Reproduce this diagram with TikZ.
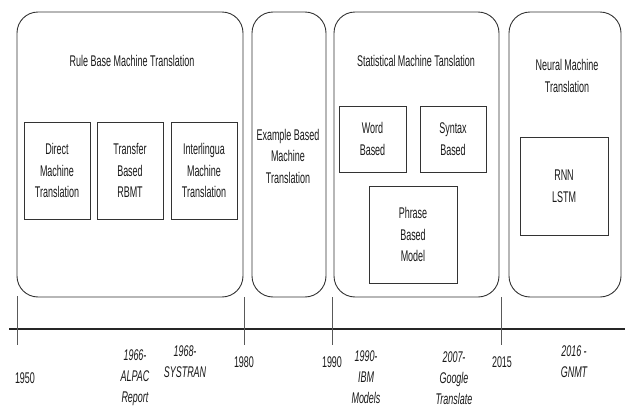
\documentclass[tikz,border=0pt]{standalone}
\usepackage{fontspec}
\setmainfont{Liberation Sans}[FakeStretch=0.58]
\begin{document}
\begin{tikzpicture}[x=1pt,y=-1pt,
  every node/.style={font=\fontsize{15.5}{21.5}\selectfont, text=black!90},
  era/.style={draw=black!80, line width=0.9pt, rounded corners=21pt, minimum width=#1},
  sub/.style={draw=black!80, line width=0.9pt, align=center, inner sep=0pt},
  lbl/.style={align=center, inner sep=0pt},
  yr/.style={align=center, inner sep=0pt, font=\fontsize{15.5}{21}\selectfont\itshape},
  axis/.style={line width=1.6pt, draw=black!85},
  tick/.style={line width=0.8pt, draw=black!65}]
\useasboundingbox (0,0) rectangle (625,407);
% era boxes
\node[era=226pt, minimum height=285pt] (rb) at (130,154.5) {};
\node[era=74pt, minimum height=285pt] (eb) at (289,154.5) {};
\node[era=165pt, minimum height=285pt] (sm) at (416.5,154.5) {};
\node[era=112pt, minimum height=285pt] (nm) at (565,154.5) {};
% titles
\node[lbl] (rbt) at (132,61) {Rule Base Machine Translation};
\node[lbl] (ebt) at (288,156) {Example Based\\Machine\\Translation};
\node[lbl] (smt) at (416,61) {Statistical Machine Tanslation};
\node[lbl] (nmt) at (567,76) {Neural Machine\\Translation};
% sub boxes
\node[sub, minimum width=66pt, minimum height=97pt] (dir) at (57,170.5) {Direct\\Machine\\Translation};
\node[sub, minimum width=66pt, minimum height=97pt] (tra) at (130,170.5) {Transfer\\Based\\RBMT};
\node[sub, minimum width=66pt, minimum height=97pt] (int) at (204,170.5) {Interlingua\\Machine\\Translation};
\node[sub, minimum width=67pt, minimum height=66pt] (wb) at (372.5,139) {Word\\Based};
\node[sub, minimum width=66pt, minimum height=66pt] (sb) at (453,139) {Syntax\\Based};
\node[sub, minimum width=88pt, minimum height=97pt] (pb) at (413,234.5) {Phrase\\Based\\Model};
\node[sub, minimum width=88pt, minimum height=98pt] (rnn) at (564,186) {RNN\\LSTM};
% timeline
\coordinate (a0) at (9,329);
\coordinate (a1) at (625,329);
\draw[axis] (a0) -- (a1);
\coordinate (t1a) at (17,296); \coordinate (t1b) at (17,345);
\coordinate (t2a) at (244,297); \coordinate (t2b) at (244,345);
\coordinate (t3a) at (332,297); \coordinate (t3b) at (332,345);
\coordinate (t4a) at (501,297); \coordinate (t4b) at (501,345);
\draw[tick] (t1a) -- (t1b);
\draw[tick] (t2a) -- (t2b);
\draw[tick] (t3a) -- (t3b);
\draw[tick] (t4a) -- (t4b);
% year labels
\node[lbl] (y1950) at (25,378) {1950};
\node[lbl] (y1980) at (244,362) {1980};
\node[lbl] (y1990) at (332,362) {1990};
\node[lbl] (y2015) at (502,362) {2015};
\node[yr] (e1966) at (135,378) {1966-\\ALPAC\\Report};
\node[yr] (e1968) at (185,362) {1968-\\SYSTRAN};
\node[yr] (e1990) at (366,377) {1990-\\IBM\\Models};
\node[yr] (e2007) at (454,378) {2007-\\Google\\Translate};
\node[yr] (e2016) at (574,362) {2016 -\\GNMT};
\end{tikzpicture}
\end{document}
